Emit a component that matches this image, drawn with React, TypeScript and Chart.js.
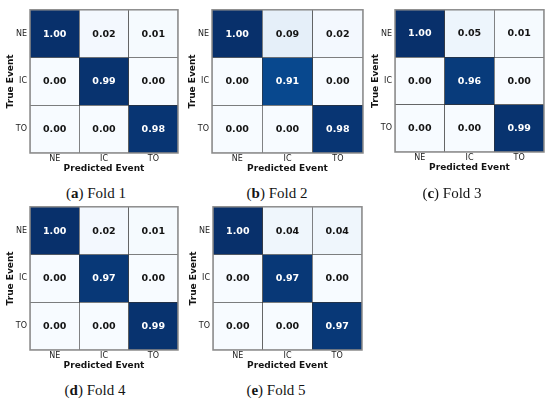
import React, { useEffect, useRef } from "react";
import { Chart, registerables } from "chart.js";

Chart.register(...registerables);

const classes = ["NE", "IC", "TO"];

const fold1 = [
  [1.0, 0.02, 0.01],
  [0.0, 0.99, 0.0],
  [0.0, 0.0, 0.98],
];
const fold2 = [
  [1.0, 0.09, 0.02],
  [0.0, 0.91, 0.0],
  [0.0, 0.0, 0.98],
];
const fold3 = [
  [1.0, 0.05, 0.01],
  [0.0, 0.96, 0.0],
  [0.0, 0.0, 0.99],
];
const fold4 = [
  [1.0, 0.02, 0.01],
  [0.0, 0.97, 0.0],
  [0.0, 0.0, 0.99],
];
const fold5 = [
  [1.0, 0.04, 0.04],
  [0.0, 0.97, 0.0],
  [0.0, 0.0, 0.97],
];

const matrices = [fold1, fold2, fold3, fold4, fold5];
const captionLetters = ["a", "b", "c", "d", "e"];
const captionTexts = ["Fold 1", "Fold 2", "Fold 3", "Fold 4", "Fold 5"];
const xTitle = "Predicted Event";
const yTitle = "True Event";

// Layout (plot-area rectangles and caption centres)
const grids = [
  { l: 30, t: 5, r: 178, b: 153, cx: 96, cy: 193 },
  { l: 212, t: 5, r: 363, b: 153, cx: 277, cy: 193 },
  { l: 395, t: 5, r: 544, b: 152, cx: 452, cy: 193 },
  { l: 30, t: 202, r: 178, b: 350, cx: 95, cy: 390 },
  { l: 213, t: 202, r: 362, b: 350, cx: 276, cy: 390 },
];

const Y_AXIS_W = 30;
const X_AXIS_H = 21;
const PAD_R = 3;
const PAD_T = 3;

const BLUES = [
  [247, 251, 255],
  [222, 235, 247],
  [198, 219, 239],
  [158, 202, 225],
  [107, 174, 214],
  [66, 146, 198],
  [33, 113, 181],
  [8, 81, 156],
  [8, 48, 107],
];

function blues(v: number): string {
  const t = Math.max(0, Math.min(1, v)) * (BLUES.length - 1);
  const i = Math.min(BLUES.length - 2, Math.floor(t));
  const f = t - i;
  const a = BLUES[i];
  const b = BLUES[i + 1];
  const c = a.map((x, k) => Math.round(x + (b[k] - x) * f));
  return `rgb(${c[0]},${c[1]},${c[2]})`;
}

const FONT = "'DejaVu Sans', sans-serif";

const cellLabels = {
  id: "cellLabels",
  afterDatasetsDraw(chart: any) {
    const ctx = chart.ctx;
    ctx.save();
    ctx.font = `bold 9.5px ${FONT}`;
    ctx.textAlign = "center";
    ctx.textBaseline = "middle";
    chart.data.datasets.forEach((ds: any, di: number) => {
      const meta = chart.getDatasetMeta(di);
      meta.data.forEach((el: any, i: number) => {
        const v = ds.values[i];
        ctx.fillStyle = v > 0.5 ? "#ffffff" : "#141414";
        ctx.fillText(v.toFixed(2), el.x, (el.y + el.base) / 2 + 0.5);
      });
    });
    ctx.restore();
  },
};

const frame = {
  id: "frame",
  afterDraw(chart: any) {
    const { ctx, chartArea: a } = chart;
    ctx.save();
    ctx.strokeStyle = "#8c8c8c";
    ctx.lineWidth = 1.5;
    ctx.strokeRect(a.left, a.top, a.right - a.left, a.bottom - a.top);
    ctx.restore();
  },
};

function Panel({ idx }: { idx: number }) {
  const ref = useRef<HTMLCanvasElement | null>(null);
  const g = grids[idx];
  const left = g.l - Y_AXIS_W;
  const top = g.t - PAD_T;
  const width = g.r + PAD_R - left;
  const height = g.b + X_AXIS_H - top;

  useEffect(() => {
    const m = matrices[idx];
    const chart = new Chart(ref.current as HTMLCanvasElement, {
      type: "bar",
      data: {
        labels: classes,
        datasets: classes.map((rowName, r) => ({
          label: rowName,
          data: classes.map(() => 1),
          values: m[r],
          backgroundColor: m[r].map((v) => blues(v)),
          borderColor: "#333333",
          borderWidth: 0.6,
          borderSkipped: false,
          categoryPercentage: 1,
          barPercentage: 1,
        })) as any,
      },
      options: {
        animation: false,
        responsive: true,
        maintainAspectRatio: false,
        layout: { padding: { top: PAD_T, right: PAD_R, left: 0, bottom: 0 } },
        plugins: {
          legend: { display: false },
          tooltip: { enabled: false },
        },
        scales: {
          x: {
            stacked: true,
            grid: { display: false, drawTicks: false },
            border: { display: false },
            ticks: {
              padding: 1.5,
              color: "#222",
              font: { family: FONT, size: 8 },
              maxRotation: 0,
            },
            title: {
              display: true,
              text: xTitle,
              color: "#141414",
              font: { family: FONT, size: 9, weight: "bold" },
              padding: { top: 0, bottom: 0 },
            },
            afterFit(scale: any) {
              scale.height = X_AXIS_H;
            },
          },
          y: {
            stacked: true,
            reverse: true,
            min: 0,
            max: 3,
            grid: { display: false, drawTicks: false },
            border: { display: false },
            afterBuildTicks(scale: any) {
              scale.ticks = classes.map((_, i) => ({ value: i + 0.5 }));
            },
            ticks: {
              padding: 3,
              color: "#222",
              font: { family: FONT, size: 8 },
              callback: (v: any) => classes[Math.floor(Number(v))],
            },
            title: {
              display: true,
              text: yTitle,
              color: "#141414",
              font: { family: FONT, size: 9, weight: "bold" },
              padding: { top: 5.5, bottom: 0 },
            },
            afterFit(scale: any) {
              scale.width = Y_AXIS_W;
            },
          },
        },
      },
      plugins: [cellLabels, frame],
    } as any);
    return () => chart.destroy();
  }, [idx]);

  return (
    <>
      <div
        style={{
          position: "absolute",
          left,
          top,
          width,
          height,
        }}
      >
        <canvas ref={ref} />
      </div>
      <div
        style={{
          position: "absolute",
          left: g.cx - 60,
          top: g.cy - 10,
          width: 120,
          height: 20,
          lineHeight: "20px",
          textAlign: "center",
          fontFamily: "'Liberation Serif', 'DejaVu Serif', serif",
          fontSize: 15,
          color: "#141414",
          whiteSpace: "nowrap",
        }}
      >
        (<b>{captionLetters[idx]}</b>) {captionTexts[idx]}
      </div>
    </>
  );
}

export default function App() {
  return (
    <div
      style={{
        position: "absolute",
        left: 0,
        top: 0,
        width: 550,
        height: 401,
        background: "#ffffff",
      }}
    >
      {matrices.map((_, i) => (
        <Panel key={i} idx={i} />
      ))}
    </div>
  );
}
